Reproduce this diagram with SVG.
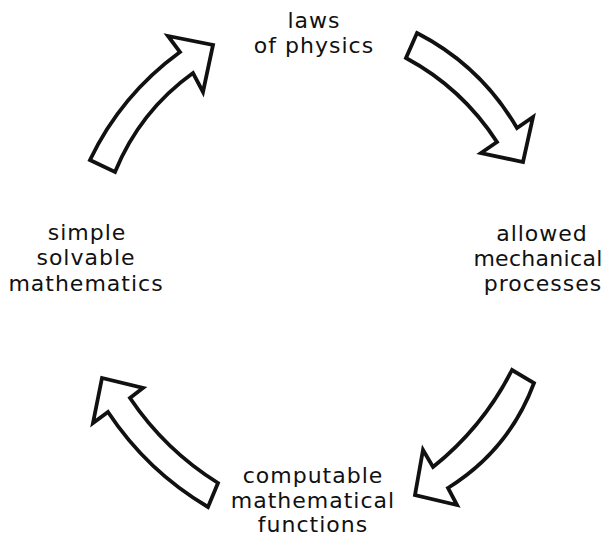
<svg xmlns="http://www.w3.org/2000/svg" width="609" height="544" viewBox="0 0 609 544">
<style>
.lbl{font-family:"DejaVu Sans","Liberation Sans",sans-serif;font-size:22px;fill:#111;text-anchor:middle;letter-spacing:1px}
.arr{fill:#fff;stroke:#111;stroke-width:3.8;stroke-linejoin:miter}
</style>
<rect width="609" height="544" fill="#fff"/>
<g id="connectors">
<path class="arr" d="M90,160 Q121,95 180,52 L168,36 L213,45 L203,92 L193,73 Q140,111 115,172 Z"/>
<path class="arr" d="M417,33 Q481,66 517,128 L533,117 L523,162 L481,153 L497,142 Q462,88 406,58 Z"/>
<path class="arr" d="M534,383 Q509,450 448,488 L457,505 L415,495 L423,450 L433,467 Q483,427 512,370 Z"/>
<path class="arr" d="M208,507 Q147,471 108,412 L93,423 L102,378 L143,388 L130,398 Q165,450 218,483 Z"/>
</g>
<g id="laws-of-physics">
<text class="lbl" x="314" y="28">laws</text>
<text class="lbl" x="314" y="53">of physics</text>
</g>
<g id="allowed-mechanical-processes">
<text class="lbl" x="542" y="241">allowed</text>
<text class="lbl" x="538" y="266" style="letter-spacing:0.3px">mechanical</text>
<text class="lbl" x="543" y="291">processes</text>
</g>
<g id="computable-mathematical-functions">
<text class="lbl" x="313" y="483">computable</text>
<text class="lbl" x="313" y="508">mathematical</text>
<text class="lbl" x="313" y="532">functions</text>
</g>
<g id="simple-solvable-mathematics">
<text class="lbl" x="87" y="240">simple</text>
<text class="lbl" x="86" y="265">solvable</text>
<text class="lbl" x="86" y="291">mathematics</text>
</g>
</svg>
